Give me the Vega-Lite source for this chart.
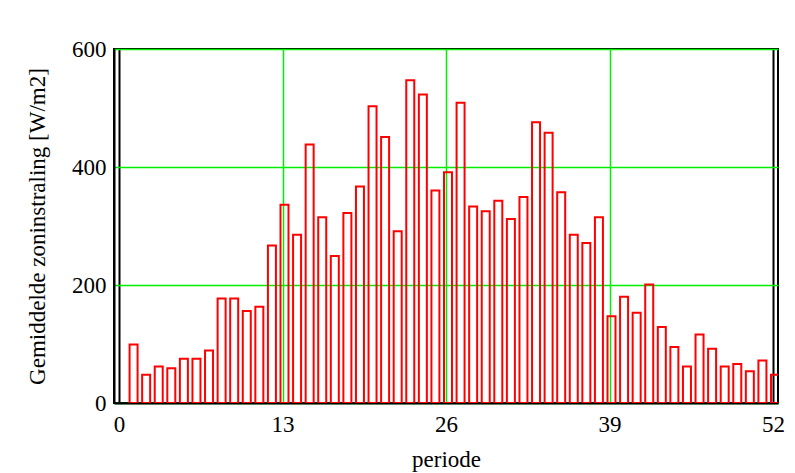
{
  "$schema": "https://vega.github.io/schema/vega-lite/v6.json",
  "width": 664,
  "height": 354,
  "autosize": {"type": "none"},
  "padding": {"left": 114, "top": 49, "right": 17, "bottom": 70},
  "background": "white",
  "config": {
    "font": "Liberation Serif",
    "view": {"stroke": "black", "strokeWidth": 2},
    "axis": {
      "labelFont": "Liberation Serif",
      "titleFont": "Liberation Serif",
      "labelFontSize": 23,
      "titleFontSize": 23,
      "labelColor": "black",
      "titleColor": "black",
      "titleFontWeight": "normal",
      "ticks": false,
      "domainColor": "black",
      "domainWidth": 2,
      "gridWidth": 1.5,
      "gridOpacity": 1,
      "gridColor": "#00ee00"
    }
  },
  "data": {
    "values": [
      {"periode": 1, "straling": 99},
      {"periode": 2, "straling": 48},
      {"periode": 3, "straling": 62},
      {"periode": 4, "straling": 59},
      {"periode": 5, "straling": 75},
      {"periode": 6, "straling": 75},
      {"periode": 7, "straling": 89},
      {"periode": 8, "straling": 177},
      {"periode": 9, "straling": 177},
      {"periode": 10, "straling": 156},
      {"periode": 11, "straling": 163},
      {"periode": 12, "straling": 267},
      {"periode": 13, "straling": 336},
      {"periode": 14, "straling": 285},
      {"periode": 15, "straling": 438},
      {"periode": 16, "straling": 315},
      {"periode": 17, "straling": 249},
      {"periode": 18, "straling": 322},
      {"periode": 19, "straling": 367},
      {"periode": 20, "straling": 503},
      {"periode": 21, "straling": 451},
      {"periode": 22, "straling": 291},
      {"periode": 23, "straling": 547},
      {"periode": 24, "straling": 523},
      {"periode": 25, "straling": 360},
      {"periode": 26, "straling": 391},
      {"periode": 27, "straling": 509},
      {"periode": 28, "straling": 333},
      {"periode": 29, "straling": 325},
      {"periode": 30, "straling": 343},
      {"periode": 31, "straling": 312},
      {"periode": 32, "straling": 349},
      {"periode": 33, "straling": 476},
      {"periode": 34, "straling": 458},
      {"periode": 35, "straling": 357},
      {"periode": 36, "straling": 285},
      {"periode": 37, "straling": 271},
      {"periode": 38, "straling": 315},
      {"periode": 39, "straling": 147},
      {"periode": 40, "straling": 180},
      {"periode": 41, "straling": 153},
      {"periode": 42, "straling": 201},
      {"periode": 43, "straling": 129},
      {"periode": 44, "straling": 95},
      {"periode": 45, "straling": 62},
      {"periode": 46, "straling": 116},
      {"periode": 47, "straling": 92},
      {"periode": 48, "straling": 62},
      {"periode": 49, "straling": 66},
      {"periode": 50, "straling": 54},
      {"periode": 51, "straling": 72},
      {"periode": 52, "straling": 48}
    ]
  },
  "mark": {
    "type": "bar",
    "size": 8,
    "xOffset": 2,
    "fill": "white",
    "fillOpacity": 0,
    "stroke": "#ff0000",
    "strokeWidth": 2,
    "clip": true
  },
  "encoding": {
    "x": {
      "field": "periode",
      "type": "quantitative",
      "scale": {"domain": [0, 52], "nice": false, "zero": false},
      "axis": {
        "title": "periode",
        "values": [0, 13, 26, 39, 52],
        "labelPadding": 10,
        "titlePadding": 12,
        "labelFlush": false,
        "grid": true,
        "gridColor": {"expr": "datum.value == 0 || datum.value == 52 ? 'black' : '#00ee00'"},
        "gridWidth": {"expr": "datum.value == 0 || datum.value == 52 ? 2 : 1.5"}
      }
    },
    "y": {
      "field": "straling",
      "type": "quantitative",
      "scale": {"domain": [0, 600], "nice": false},
      "axis": {
        "title": "Gemiddelde zoninstraling [W/m2]",
        "values": [0, 200, 400, 600],
        "labelPadding": 8,
        "titlePadding": 22,
        "labelFlush": false,
        "grid": true
      }
    }
  }
}
